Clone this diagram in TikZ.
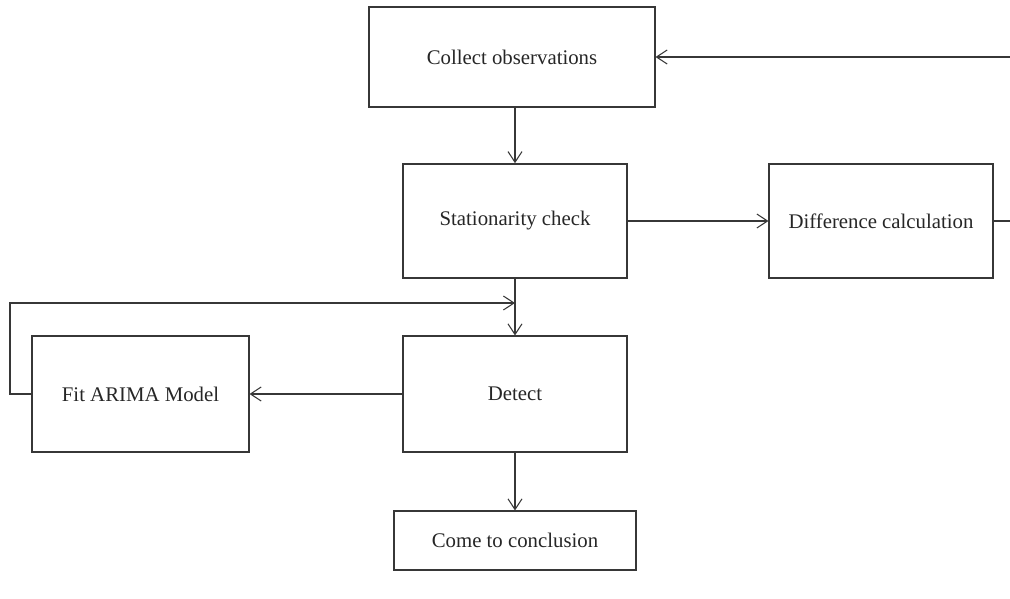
\documentclass[tikz,border=0pt]{standalone}
\usepackage{fontspec}
\setmainfont{Liberation Serif}
\usetikzlibrary{arrows.meta}
\definecolor{linegray}{RGB}{55,55,55}

\begin{document}
\begin{tikzpicture}[x=0.75pt,y=-0.75pt,
    box/.style={draw=linegray, line width=0.8pt, inner sep=0pt, align=center,
                text=black!85, font=\fontsize{15.6}{18}\selectfont},
    flow/.style={draw=linegray, line width=0.8pt, -{Straight Barb[length=8pt,width=10.5pt]}}]
    % Marco de la figura
    \useasboundingbox (0,0) rectangle (1010,599);

    % Cajas del diagrama
    \node[box, minimum width=214.5pt, minimum height=75pt] (collect) at (512,57) {Collect observations};
    \node[box, line width=1.2pt, minimum width=168pt, minimum height=85.5pt] (stat) at (515,221) {Stationarity check};
    \node[box, minimum width=168pt, minimum height=85.5pt] (diff) at (881,221) {Difference calculation};
    \node[box, minimum width=168pt, minimum height=87pt] (detect) at (515,394) {Detect};
    \node[box, minimum width=162.75pt, minimum height=87pt] (fit) at (140.5,394) {Fit ARIMA Model};
    \node[box, minimum width=181.5pt, minimum height=44.25pt] (concl) at (515,540.5) {Come to conclusion};

    % Puntos de giro de los lazos
    \coordinate (rturn) at (1016,221);
    \coordinate (lturn) at (10,303);

    % Flechas
    \draw[flow] (stat.north |- collect.south) -- (stat.north);
    \draw[flow] (stat.east) -- (diff.west);
    \draw[flow] (diff.east) -- (rturn) |- (collect.east);
    \draw[flow] (stat.south) -- (detect.north);
    \draw[flow] (detect.west) -- (fit.east);
    \draw[flow] (detect.south) -- (concl.north);
    \draw[flow] (fit.west) -| (lturn) -- (detect.north |- lturn);
\end{tikzpicture}
\end{document}
